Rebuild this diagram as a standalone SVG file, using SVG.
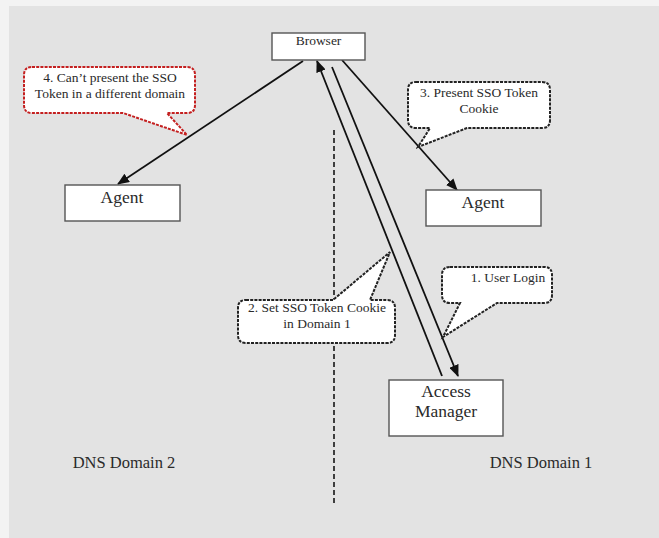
<svg xmlns="http://www.w3.org/2000/svg" width="659" height="538" viewBox="0 0 659 538">
<defs>
<style>
.box{fill:#fff;stroke:#555;stroke-width:1.4}
.t{font-family:"Liberation Serif","Times New Roman",serif;fill:#2a2a2a;text-anchor:middle}
.lbl{font-size:17.5px}
.cl{font-size:13.5px}
.conn{stroke:#111;stroke-width:1.8;fill:none}
.call{fill:#fff;stroke:#222;stroke-width:2;stroke-dasharray:3 1.2}
.red{stroke:#c42020}
</style>
<marker id="ahb" viewBox="0 0 12 10" refX="11" refY="5" markerWidth="12" markerHeight="10" markerUnits="userSpaceOnUse" orient="auto">
<path d="M0,0 L12,5 L0,10 Z" fill="#111"/>
</marker>
</defs>
<rect x="0" y="0" width="659" height="538" fill="#f3f3f3"/>
<rect x="9" y="6" width="650" height="532" fill="#e3e3e3"/>
<line x1="334" y1="130" x2="334" y2="505" stroke="#222" stroke-width="1.7" stroke-dasharray="5 3"/>
<g id="connectors">
<line class="conn" x1="303" y1="61" x2="118" y2="184" marker-end="url(#ahb)"/>
<line class="conn" x1="342" y1="60" x2="457" y2="190" marker-end="url(#ahb)"/>
<line class="conn" x1="442" y1="376" x2="317" y2="61" marker-end="url(#ahb)"/>
<line class="conn" x1="332" y1="67" x2="458" y2="376" marker-end="url(#ahb)"/>
</g>
<g id="browser">
<rect class="box" x="272" y="33" width="93" height="27"/>
<text class="t" x="318.5" y="45" font-size="13.5">Browser</text>
</g>
<g id="agent-left">
<rect class="box" x="65" y="185" width="115" height="36"/>
<text class="t lbl" x="122" y="203">Agent</text>
</g>
<g id="agent-right">
<rect class="box" x="426" y="190" width="115" height="36"/>
<text class="t lbl" x="483" y="208">Agent</text>
</g>
<g id="access-manager">
<rect class="box" x="389" y="380" width="114" height="56"/>
<text class="t lbl" x="446" y="397">Access</text>
<text class="t lbl" x="446" y="417">Manager</text>
</g>
<g id="callout-4">
<path class="call red" d="M32,67 H187 Q195,67 195,75 V105 Q195,113 187,113 H167 L187,135 L123,113 H32 Q24,113 24,105 V75 Q24,67 32,67 Z"/>
<text class="t cl" x="110" y="82">4. Can’t present the SSO</text>
<text class="t cl" x="110" y="98">Token in a different domain</text>
</g>
<g id="callout-3">
<path class="call" d="M416,82 H542 Q550,82 550,90 V120 Q550,128 542,128 H467 L418,147 L430,128 H416 Q408,128 408,120 V90 Q408,82 416,82 Z"/>
<text class="t cl" x="479" y="97">3. Present SSO Token</text>
<text class="t cl" x="479" y="113">Cookie</text>
</g>
<g id="callout-1">
<path class="call" d="M450,267 H544 Q552,267 552,275 V295 Q552,303 544,303 H497 L443,337 L460,303 H450 Q442,303 442,295 V275 Q442,267 450,267 Z"/>
<text class="t cl" x="508" y="282">1. User Login</text>
</g>
<g id="callout-2">
<path class="call" d="M246,300 H333 L390,252 L370,300 H387 Q395,300 395,308 V335 Q395,343 387,343 H246 Q238,343 238,335 V308 Q238,300 246,300 Z"/>
<text class="t cl" x="317" y="312">2. Set SSO Token Cookie</text>
<text class="t cl" x="317" y="328">in Domain 1</text>
</g>
<text class="t" x="124" y="468" font-size="16.5">DNS Domain 2</text>
<text class="t" x="541" y="468" font-size="16.5">DNS Domain 1</text>
</svg>
